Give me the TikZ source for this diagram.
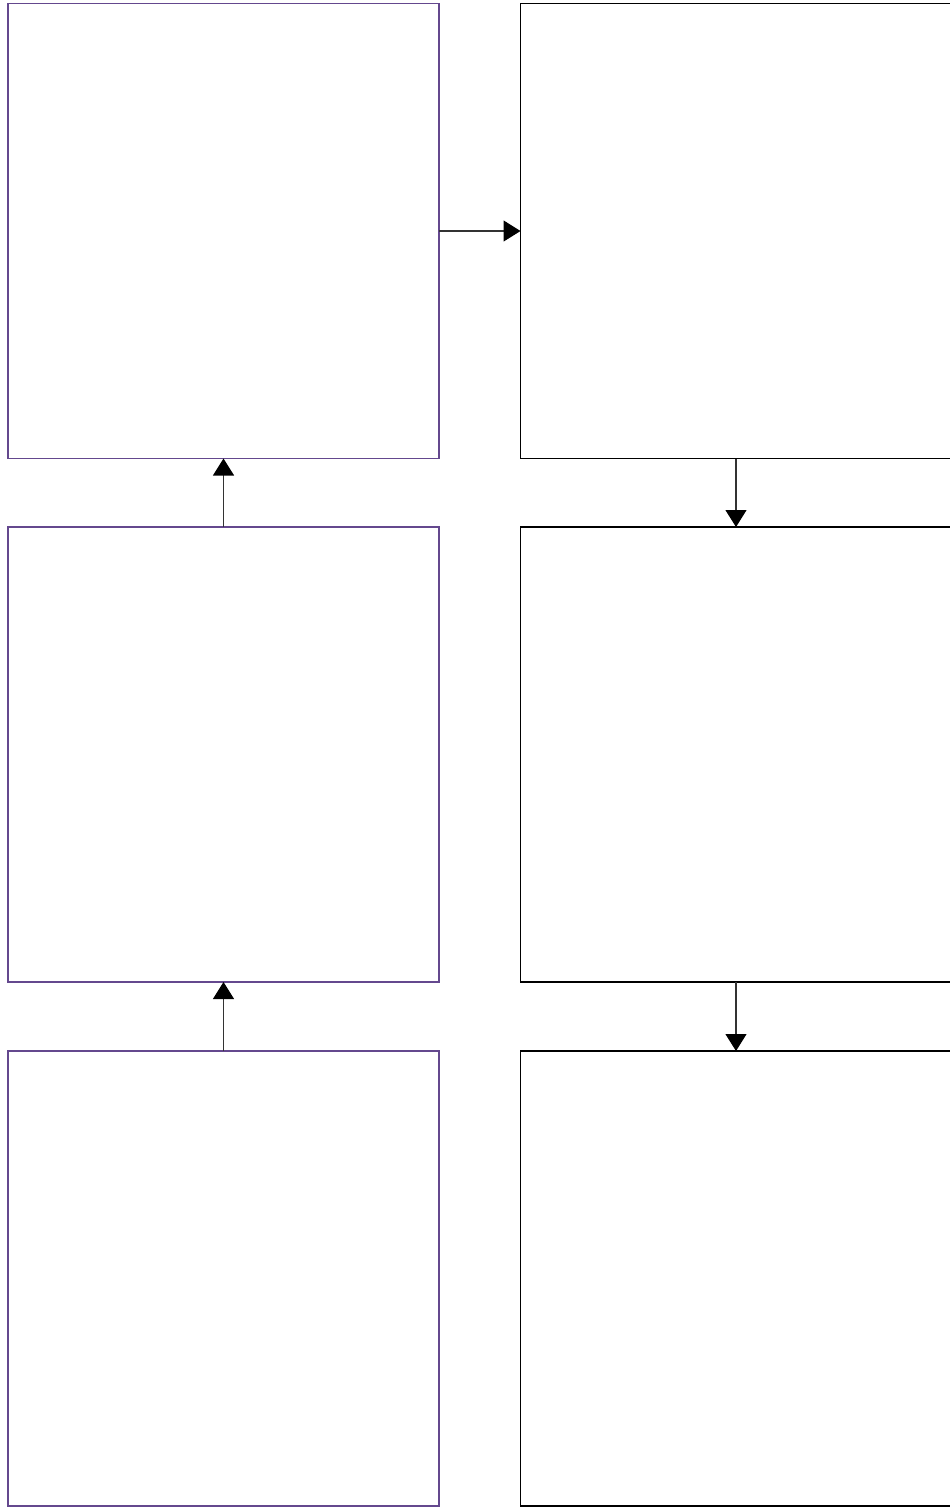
\documentclass[tikz,border=0pt]{standalone}
\usetikzlibrary{arrows.meta}
\definecolor{boxpurple}{RGB}{100,72,142}
\begin{document}
\begin{tikzpicture}[x=1pt,y=-1pt,
  panel/.style={draw, line width=1.2pt, fill=white, minimum width=431pt,
    minimum height=455pt, inner sep=0pt, outer sep=0pt, anchor=center},
  leftpanel/.style={panel, draw=boxpurple},
  rightpanel/.style={panel, draw=black},
  link/.style={draw=black!80, line width=1.1pt,
    -{Triangle[length=17pt,width=21pt,color=black]}}]
  \useasboundingbox (0,0) rectangle (950,1508);
  \clip (0,0) rectangle (950,1508);
  % left column (flow goes upwards)
  \node[leftpanel] (l1) at (223.5,231) {};
  \node[leftpanel] (l2) at (223.5,754.5) {};
  \node[leftpanel] (l3) at (223.5,1278.5) {};
  % right column (flow goes downwards), running past the right edge
  \node[rightpanel] (r1) at (736,231) {};
  \node[rightpanel] (r2) at (736,754.5) {};
  \node[rightpanel] (r3) at (736,1278.5) {};
  % connectors
  \draw[link] (l3.north) -- (l2.south);
  \draw[link] (l2.north) -- (l1.south);
  \draw[link] (l1.east) -- (r1.west);
  \draw[link] (r1.south) -- (r2.north);
  \draw[link] (r2.south) -- (r3.north);
\end{tikzpicture}
\end{document}
